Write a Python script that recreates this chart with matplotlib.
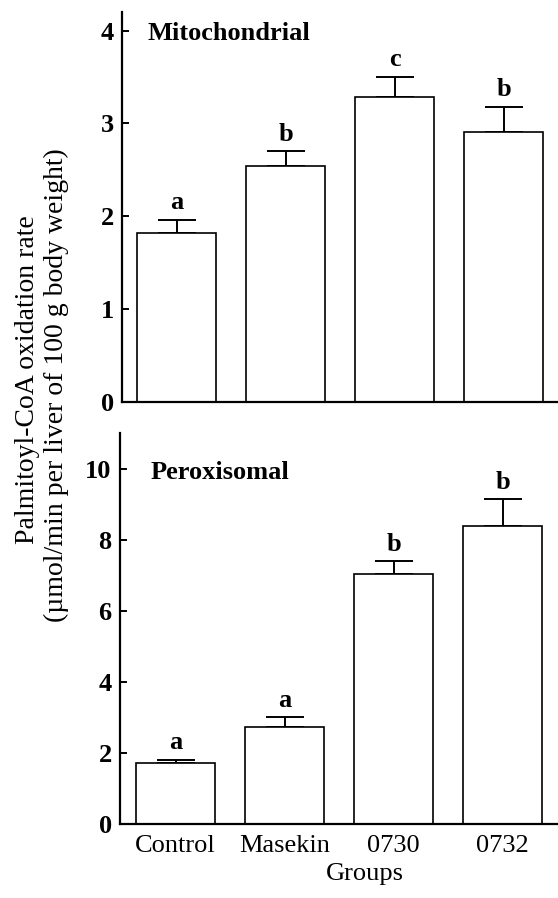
import matplotlib
matplotlib.use("Agg")
import matplotlib.pyplot as plt
import numpy as np

groups = ["Control", "Masekin", "0730", "0732"]
mito_mean = [1.82, 2.54, 3.29, 2.91]
mito_err = [0.14, 0.16, 0.21, 0.27]
mito_letters = ["a", "b", "c", "b"]
perox_mean = [1.71, 2.73, 7.02, 8.37]
perox_err = [0.09, 0.27, 0.37, 0.76]
perox_letters = ["a", "a", "b", "b"]
mito_ticks = [0, 1, 2, 3, 4]
perox_ticks = [0, 2, 4, 6, 8, 10]

plt.rcParams["font.family"] = ["Liberation Serif", "DejaVu Serif"]
FS = 19

fig = plt.figure(figsize=(5.58, 8.98), dpi=100)
W, H = 558, 898

def axes_px(l, r, top, bot):
    return fig.add_axes([l / W, 1 - bot / H, (r - l) / W, (bot - top) / H])

ax1 = axes_px(122, 557, 12, 402)
ax2 = axes_px(120, 557, 433, 824)

x = np.arange(len(groups))

def draw(ax, mean, err, letters, ticks, ylim, title, title_xy, xlim):
    ax.bar(x, mean, width=0.725, color="white", edgecolor="black", linewidth=1.2, zorder=2)
    ax.errorbar(x, mean, yerr=[np.zeros(len(err)), err], fmt="none", ecolor="black",
                elinewidth=1.4, capsize=14, capthick=1.4, zorder=1)
    for xi, m, e, t in zip(x, mean, err, letters):
        ax.annotate(t, (xi, m + e), xytext=(0, 4), textcoords="offset points",
                    ha="center", va="bottom", fontsize=FS, fontweight="bold")
    ax.set_xlim(*xlim)
    ax.set_ylim(*ylim)
    ax.set_yticks(ticks)
    ax.set_yticklabels([str(t) for t in ticks], fontsize=FS, fontweight="bold")
    ax.tick_params(axis="y", direction="in", length=5, width=1.4, pad=6)
    ax.tick_params(axis="x", length=0)
    for s in ["top", "right"]:
        ax.spines[s].set_visible(False)
    for s in ["left", "bottom"]:
        ax.spines[s].set_linewidth(1.6)
    ax.text(title_xy[0], title_xy[1], title, transform=ax.transAxes, fontsize=FS,
            fontweight="bold", ha="left", va="center")

draw(ax1, mito_mean, mito_err, mito_letters, mito_ticks, (0, 4.2), "Mitochondrial",
     ((148 - 122) / 435, 1 - (33 - 12) / 390), (-0.50, 3.49))
ax1.set_xticks([])
draw(ax2, perox_mean, perox_err, perox_letters, perox_ticks, (0, 11), "Peroxisomal",
     ((151 - 120) / 437, 1 - (472 - 433) / 391), (-0.51, 3.50))
ax2.set_xticks(x)
ax2.set_xticklabels(groups, fontsize=FS)
ax2.tick_params(axis="x", pad=8)

fig.text(365 / W, 1 - 874 / H, "Groups", fontsize=FS, ha="center", va="center")
fig.text(28 / W, 1 - 380 / H, "Palmitoyl-CoA oxidation rate", fontsize=20,
         rotation=90, ha="center", va="center")
fig.text(56 / W, 1 - 385 / H, "(µmol/min per liver of 100 g body weight)", fontsize=20,
         rotation=90, ha="center", va="center")

fig.savefig("out.png", dpi=100)
